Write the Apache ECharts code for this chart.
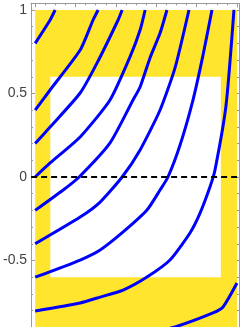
<!DOCTYPE html>
<html><head><meta charset="utf-8">
<script src="https://cdn.jsdelivr.net/npm/echarts@6/dist/echarts.min.js"></script>
<style>html,body{margin:0;padding:0;overflow:hidden;background:#fff}#c{width:240px;height:351px}</style>
</head><body><div id="c"></div><script>
// tick values
const yTickLabels = [-0.5, 0, 0.5, 1];
const yMajorTicks = [-1, -0.5, 0, 0.5, 1];
const yMinorTicks = [-1, -0.9, -0.8, -0.7, -0.6, -0.5, -0.4, -0.3, -0.2, -0.1, 0, 0.1, 0.2, 0.3, 0.4, 0.5, 0.6, 0.7, 0.8, 0.9, 1];
const xMajorTicks = [0, 0.2, 0.4, 0.6, 0.8, 1];
const xMinorTicks = [0, 0.05, 0.1, 0.15, 0.2, 0.25, 0.3, 0.35, 0.4, 0.45, 0.5, 0.55, 0.6, 0.65, 0.7, 0.75, 0.8, 0.85, 0.9, 0.95, 1];
// shaded regions [x0,y0],[x1,y1]
const outerRegion = [[0, -1], [1, 1]];
const innerRegion = [[0.075, -0.6], [0.92, 0.6]];
// reference line
const zeroLine = [[-0.02, 0], [1.01, 0]];
// curves
const curveA = [[0, 0.8], [0.074, 0.94], [0.099, 1.0]];
const curveB = [[0, 0.40], [0.074, 0.521], [0.223, 0.760], [0.287, 0.940], [0.312, 1.0]];
const curveC = [[0, 0.20], [0.074, 0.299], [0.223, 0.503], [0.307, 0.683], [0.411, 0.940], [0.431, 1.0]];
const curveD = [[0, 0], [0.074, 0.084], [0.223, 0.240], [0.371, 0.461], [0.470, 0.719], [0.520, 0.880], [0.545, 1.0]];
const curveE = [[0, -0.20], [0.139, -0.078], [0.218, 0], [0.371, 0.204], [0.485, 0.461], [0.520, 0.539], [0.569, 0.713], [0.619, 0.862], [0.653, 1.0]];
const curveF = [[0, -0.40], [0.223, -0.240], [0.322, -0.150], [0.431, 0], [0.520, 0.162], [0.619, 0.401], [0.693, 0.653], [0.762, 1.0]];
const curveG = [[0, -0.60], [0.223, -0.497], [0.322, -0.437], [0.436, -0.329], [0.554, -0.198], [0.619, -0.078], [0.658, 0], [0.718, 0.192], [0.782, 0.461], [0.832, 0.731], [0.876, 1.0]];
const curveH = [[0, -0.802], [0.223, -0.754], [0.322, -0.719], [0.436, -0.677], [0.554, -0.599], [0.668, -0.497], [0.767, -0.335], [0.817, -0.216], [0.866, -0.060], [0.891, 0.042], [0.946, 0.431], [0.985, 1.0]];
const curveI = [[0.52, -0.952], [0.693, -0.898], [0.881, -0.814], [0.931, -0.778], [1.0, -0.635]];

const curves = [curveA, curveB, curveC, curveD, curveE, curveF, curveG, curveH, curveI];
const frameColor = '#9a9a9a';
const chart = echarts.init(document.getElementById('c'), null, {renderer: 'canvas'});

function tickAxis(kind, pos, vals, len, showLine, labels) {
  const a = {
    type: 'value', position: pos, min: kind === 'x' ? -0.02 : -1.04, max: kind === 'x' ? 1.01 : 1.04,
    axisLine: {show: showLine, onZero: false, lineStyle: {color: frameColor, width: 1}},
    axisTick: {show: true, inside: true, length: len, customValues: vals, lineStyle: {color: frameColor, width: 1}},
    axisLabel: {show: false},
    splitLine: {show: false}
  };
  if (labels) {
    a.axisLabel = {show: true, customValues: labels, margin: 4, color: '#444', fontSize: 14, fontFamily: 'Liberation Sans',
      formatter: v => String(v)};
  }
  return a;
}

const series = [{
  type: 'line', data: [], silent: true, z: 1,
  markArea: {
    silent: true,
    label: {show: false},
    data: [
      [{coord: outerRegion[0], itemStyle: {color: '#ffe52e', opacity: 1}}, {coord: outerRegion[1]}],
      [{coord: innerRegion[0], itemStyle: {color: '#ffffff', opacity: 1}}, {coord: innerRegion[1]}]
    ]
  }
}];
curves.forEach(c => series.push({
  type: 'line', data: c, showSymbol: false, smooth: 0.2, z: 3,
  lineStyle: {color: '#0000ff', width: 3}, silent: true
}));
series.push({
  type: 'line', data: zeroLine, showSymbol: false, z: 4, silent: true,
  lineStyle: {color: '#000000', width: 2, type: [6, 4]}
});

chart.setOption({
  animation: false,
  backgroundColor: '#ffffff',
  grid: {left: 31, right: 1, top: 3.3, bottom: 0.3},
  xAxis: [
    tickAxis('x', 'top', xMajorTicks, 4, true),
    tickAxis('x', 'top', xMinorTicks, 2, false)
  ],
  yAxis: [
    tickAxis('y', 'left', yMajorTicks, 4, true, yTickLabels),
    tickAxis('y', 'left', yMinorTicks, 2, false),
    tickAxis('y', 'right', yMajorTicks, 4, true),
    tickAxis('y', 'right', yMinorTicks, 2, false)
  ],
  series: series
});
</script></body></html>
